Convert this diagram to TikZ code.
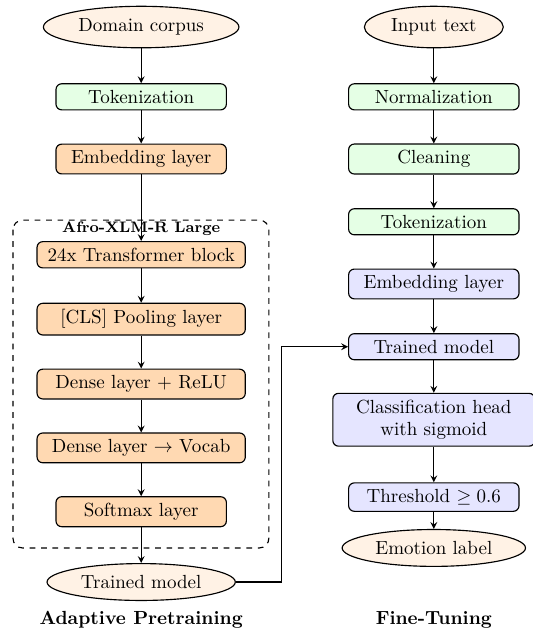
\documentclass[tikz,border=0pt]{standalone}
\usepackage{amsmath}
\usepackage{amssymb}
\usepackage{tikz}
\usetikzlibrary{shapes.geometric}

\begin{document}
\begin{tikzpicture}
    [>=stealth,
     io/.style = {ellipse, draw, semithick, fill=orange!10},
     prep/.style = {rectangle, draw, semithick, rounded corners=3pt, fill=green!10, minimum width=3.15cm},
     pre/.style = {rectangle, draw, semithick, rounded corners=3pt, fill=orange!30, minimum width=3.15cm},
     fine/.style = {rectangle, draw, semithick, rounded corners=3pt, fill=blue!10, minimum width=3.15cm},
     boxlabel/.style = {font=\footnotesize\bfseries, inner sep=1pt},
     caption/.style = {font=\bfseries}]
    \useasboundingbox (0,0) rectangle (9.85,-11.61);
    % adaptive pretraining
    \node[io] (corpus) at (2.61,-0.50) {Domain corpus};
    \node[prep] (tokA) at (2.61,-1.79) {Tokenization};
    \node[pre] (embA) at (2.61,-2.94) {Embedding layer};
    \node[pre, minimum width=3.85cm] (trf) at (2.61,-4.71) {24x Transformer block};
    \node[pre, minimum width=3.85cm] (cls) at (2.61,-5.90) {[CLS] Pooling layer};
    \node[pre, minimum width=3.85cm] (relu) at (2.61,-7.10) {Dense layer $+$ ReLU};
    \node[pre, minimum width=3.85cm] (vocab) at (2.61,-8.28) {Dense layer $\rightarrow$ Vocab};
    \node[pre] (soft) at (2.61,-9.46) {Softmax layer};
    \node[io] (tmA) at (2.61,-10.76) {Trained model};
    \draw[semithick, dashed, rounded corners=5pt] (0.24,-4.07) rectangle (4.97,-10.13);
    \node[boxlabel] (afro) at (2.61,-4.22) {Afro-XLM-R Large};
    \node[caption] (capA) at (2.61,-11.46) {Adaptive Pretraining};
    % fine-tuning
    \node[io] (input) at (8.02,-0.50) {Input text};
    \node[prep] (norm) at (8.02,-1.79) {Normalization};
    \node[prep] (clean) at (8.02,-2.94) {Cleaning};
    \node[prep] (tokB) at (8.02,-4.10) {Tokenization};
    \node[fine] (embB) at (8.02,-5.25) {Embedding layer};
    \node[fine] (tmB) at (8.02,-6.41) {Trained model};
    \node[fine, text width=3.5cm, align=center] (head) at (8.02,-7.76) {Classification head\\with sigmoid};
    \node[fine] (thr) at (8.02,-9.19) {Threshold $\geq 0.6$};
    \node[io] (emo) at (8.02,-10.13) {Emotion label};
    \node[caption] (capB) at (8.02,-11.46) {Fine-Tuning};
    \foreach \from/ \to in {corpus/tokA,tokA/embA,embA/trf,trf/cls,cls/relu,relu/vocab,vocab/soft,soft/tmA,
                            input/norm,norm/clean,clean/tokB,tokB/embB,embB/tmB,tmB/head,head/thr,thr/emo}
      \draw[semithick, ->] (\from) -- (\to);
    \coordinate (turn) at (5.21,-6.41);
    \draw[semithick, ->] (tmA.east) -| (turn) -- (tmB.west);
\end{tikzpicture}
\end{document}
